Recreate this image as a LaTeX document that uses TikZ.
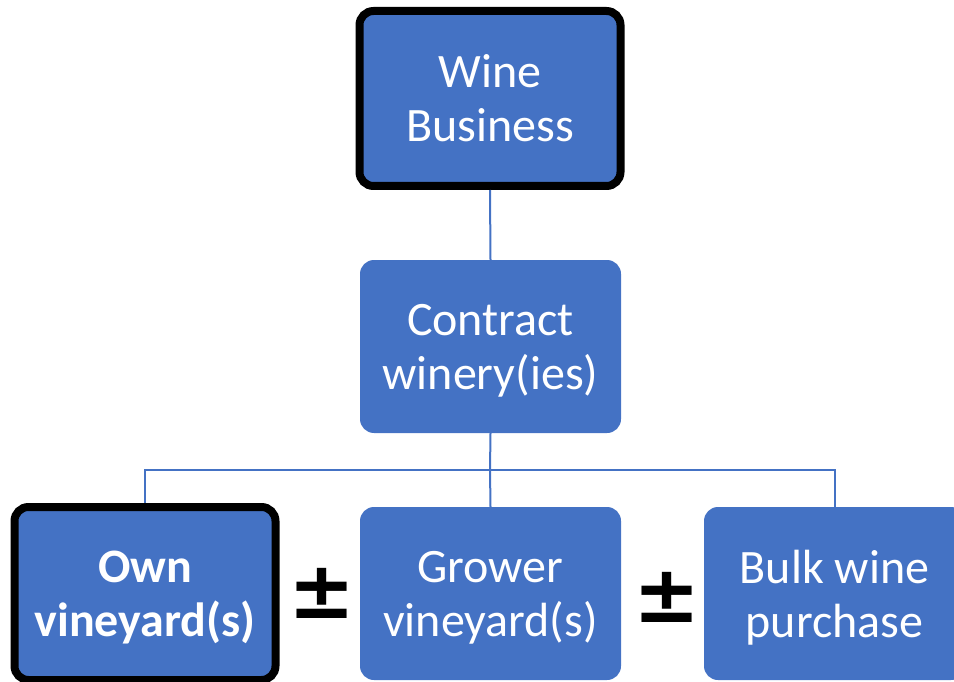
\documentclass[tikz,border=0pt]{standalone}
\usepackage{fontspec}
\setmainfont{Carlito}
\newfontfamily\pmfont{DejaVu Sans}
\definecolor{boxblue}{HTML}{4472C4}
\newcommand{\lowtext}[1]{\raisebox{-4pt}[\height][\depth]{\parbox{250pt}{\centering #1}}}
\begin{document}
\begin{tikzpicture}[x=1pt,y=-1pt,
  box/.style={draw=none, fill=boxblue, rounded corners=14pt, minimum width=261pt,
    minimum height=173pt, inner sep=0pt, text=white, align=center,
    font=\fontsize{48}{54}\selectfont},
  keybox/.style={box, draw=black, line width=8pt},
  link/.style={draw=boxblue, line width=2pt},
  pm/.style={font=\pmfont\bfseries\fontsize{80}{80}\selectfont, inner sep=0pt}]
\useasboundingbox (0,0) rectangle (954,682);
\clip (0,0) rectangle (954,682);
\node[keybox, minimum height=175pt] (wine) at (490,98.5) {Wine\\Business};
\node[box] (contract) at (490.5,346.5) {\lowtext{Contract\\winery(ies)}};
\node[keybox] (own) at (145,593.5) {\lowtext{\bfseries Own\\vineyard(s)}};
\node[box] (grower) at (490.5,593.5) {\lowtext{Grower\\vineyard(s)}};
\node[box] (bulk) at (834.5,593.5) {\lowtext{Bulk wine\\purchase}};
\coordinate (j) at (490,470);
\draw[link] (wine.south) -- (contract.north);
\draw[link] (contract.south) -- (j);
\draw[link] (j) -| (own.north);
\draw[link] (j) -| (bulk.north);
\draw[link] (j) -- (grower.north);
\node[pm] (pm1) at (322,593) {±};
\node[pm] (pm2) at (667,597) {±};
\end{tikzpicture}
\end{document}
